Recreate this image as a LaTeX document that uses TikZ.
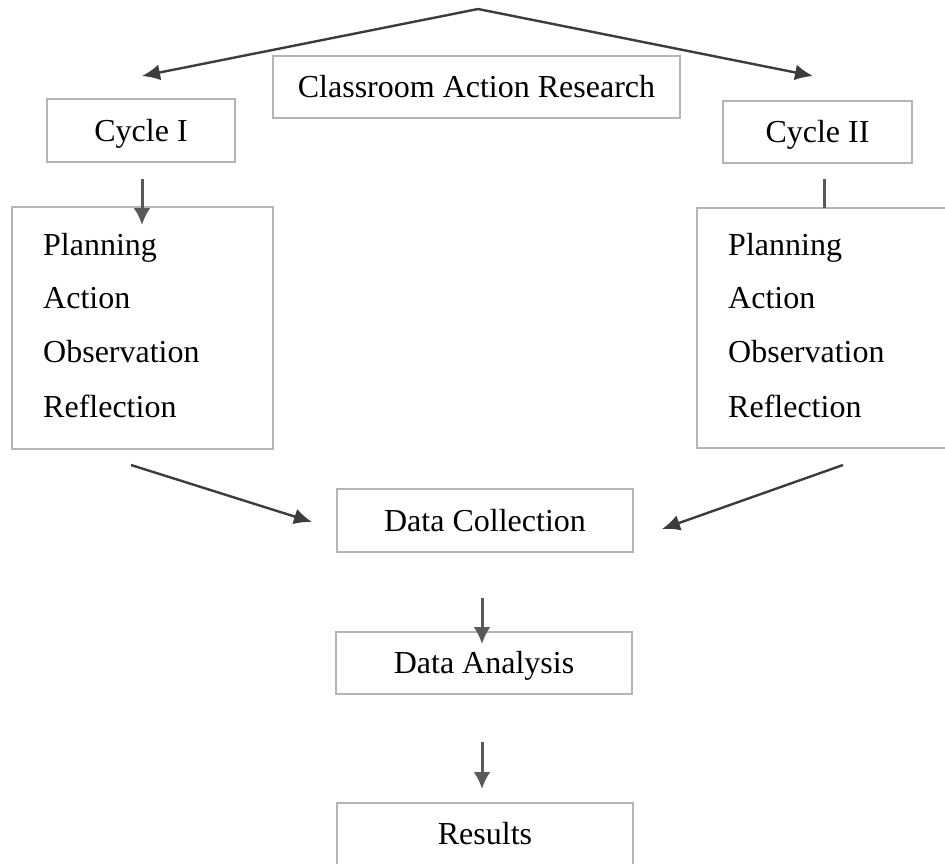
\documentclass[tikz,border=0pt]{standalone}
\usepackage{fontspec}
\setmainfont{Liberation Serif}
\usetikzlibrary{arrows.meta}
\definecolor{boxgray}{HTML}{B4B4B4}
\definecolor{arrdark}{HTML}{3C3C3C}
\definecolor{arrmid}{HTML}{595959}
\begin{document}
\begin{tikzpicture}[x=1pt,y=-1pt,
  box/.style={draw=boxgray, line width=1.5pt, rectangle, inner sep=0pt,
    text height=21pt, text depth=0pt, font=\fontsize{32}{38}\selectfont},
  lbl/.style={anchor=base west, inner sep=0pt, font=\fontsize{32}{38}\selectfont},
  diag/.style={draw=arrdark, line width=2.4pt, -{Latex[length=18pt,width=16pt]}},
  vert/.style={draw=arrmid, line width=3pt, -{Latex[length=17pt,width=17pt]}},
  plain/.style={draw=arrmid, line width=3pt},
]
\useasboundingbox (0,0) rectangle (945,863);
\clip (0,0) rectangle (945,863);

% boxes
\node[box, minimum width=407pt, minimum height=62pt] (cls) at (476.5,87) {Classroom Action Research};
\node[box, minimum width=188pt, minimum height=63pt] (c1) at (141,130.5) {Cycle I};
\node[box, minimum width=189pt, minimum height=62pt] (c2) at (817.5,132) {Cycle II};
\node[box, minimum width=261pt, minimum height=242pt] (b1) at (142.5,328) {};
\node[box, minimum width=260pt, minimum height=240pt] (b2) at (827,328) {};
\node[box, minimum width=296pt, minimum height=63pt] (dc) at (485,520.5) {Data Collection};
\node[box, minimum width=296pt, minimum height=62pt] (da) at (484,663) {Data Analysis};
\node[box, minimum width=296pt, minimum height=62pt] (res) at (485,834) {Results};

% list texts
\node[lbl] (p1) at (43,255) {Planning};
\node[lbl] (a1) at (43,308) {Action};
\node[lbl] (o1) at (43,362) {Observation};
\node[lbl] (r1) at (43,417) {Reflection};
\node[lbl] (p2) at (728,255) {Planning};
\node[lbl] (a2) at (728,308) {Action};
\node[lbl] (o2) at (728,362) {Observation};
\node[lbl] (r2) at (728,417) {Reflection};

% connector end points
\coordinate (apex) at (478,9);
\coordinate (tipL) at (142,76);
\coordinate (tipR) at (813,76);
\coordinate (c1s) at (142,179);
\coordinate (b1t) at (142,225);
\coordinate (c2s) at (824,179);
\coordinate (b2t) at (824,208);
\coordinate (b1o) at (131,465);
\coordinate (dcL) at (312,522);
\coordinate (b2o) at (843,465);
\coordinate (dcR) at (662,529);
\coordinate (dco) at (482,598);
\coordinate (dat) at (482,644);
\coordinate (dao) at (482,742);
\coordinate (rest) at (482,789);

% connectors
\draw[diag] (apex) -- (tipL);
\draw[diag] (apex) -- (tipR);
\draw[vert] (c1s) -- (b1t);
\draw[plain] (c2s) -- (b2t);
\draw[diag] (b1o) -- (dcL);
\draw[diag] (b2o) -- (dcR);
\draw[vert] (dco) -- (dat);
\draw[vert] (dao) -- (rest);
\end{tikzpicture}
\end{document}
